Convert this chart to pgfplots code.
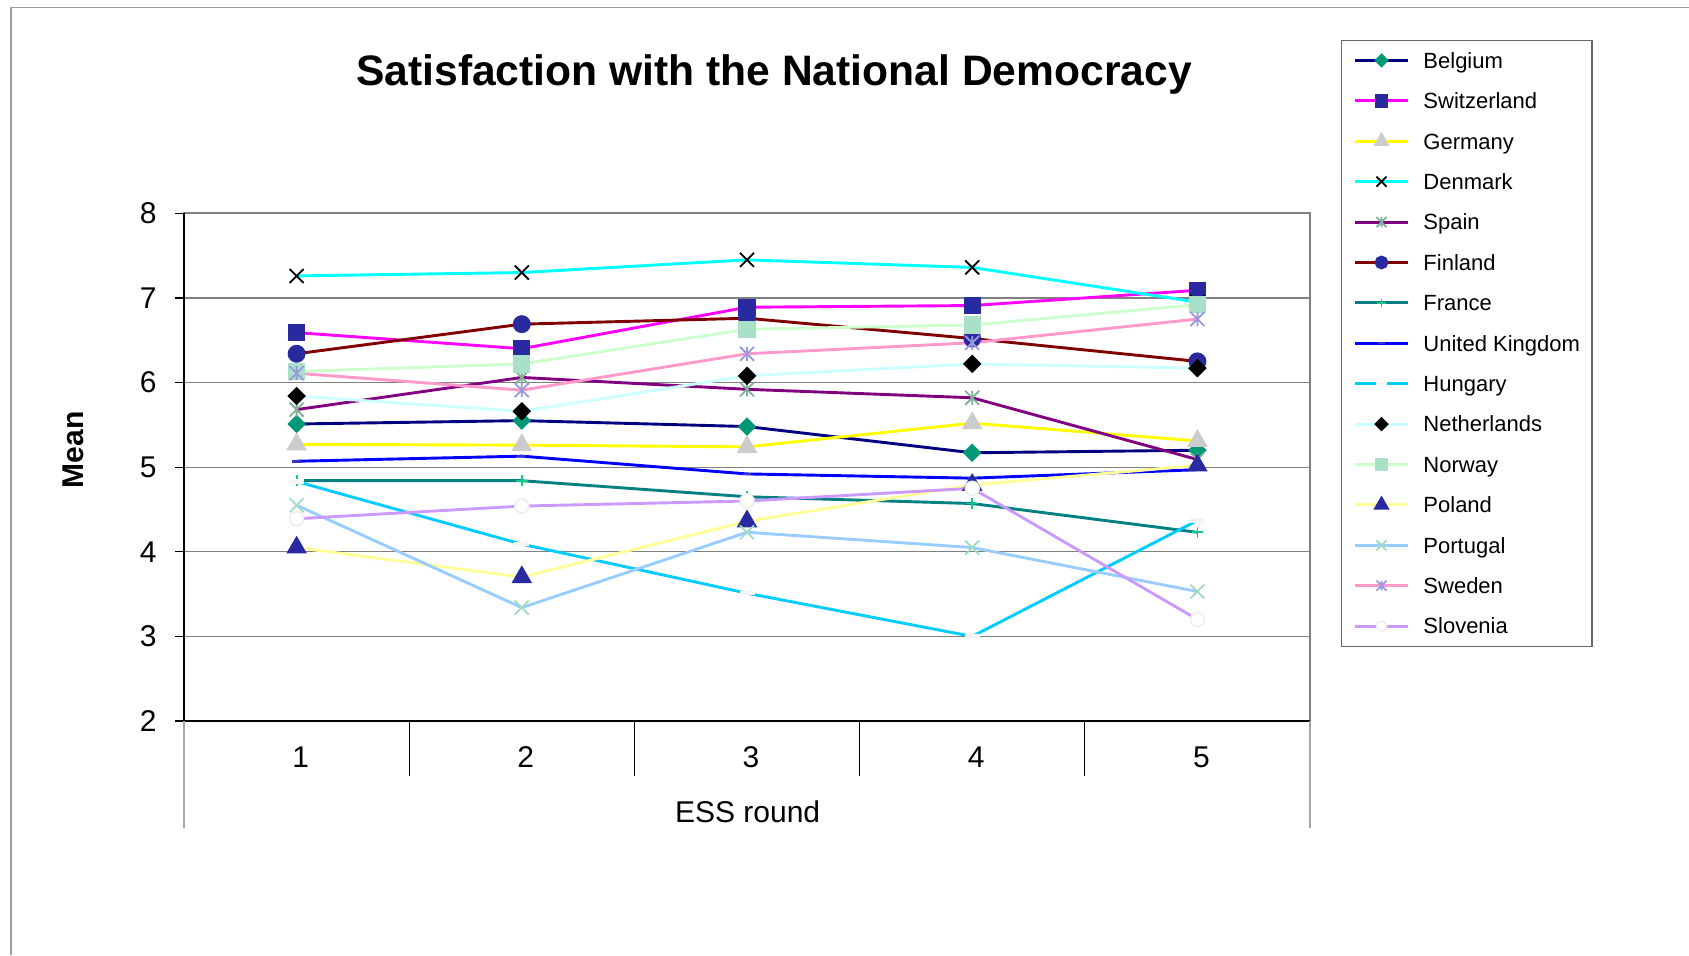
\documentclass[border=0pt]{standalone}
\usepackage{pgfplots}
\pgfplotsset{compat=1.18}
\usepackage{fontspec}
\setmainfont{Liberation Sans}

% series colours
\definecolor{cNavy}{RGB}{0,0,128}
\definecolor{cTealMk}{RGB}{0,153,119}
\definecolor{cIndigo}{RGB}{42,42,160}
\definecolor{cMagenta}{RGB}{255,0,255}
\definecolor{cYellow}{RGB}{255,255,0}
\definecolor{cLightGray}{RGB}{204,204,204}
\definecolor{cCyan}{RGB}{0,255,255}
\definecolor{cPurple}{RGB}{128,0,128}
\definecolor{cSageMk}{RGB}{128,176,150}
\definecolor{cMaroon}{RGB}{128,0,0}
\definecolor{cTeal}{RGB}{0,128,128}
\definecolor{cGreenMk}{RGB}{20,200,140}
\definecolor{cBlue}{RGB}{0,0,255}
\definecolor{cUKMk}{RGB}{51,51,204}
\definecolor{cSky}{RGB}{0,204,255}
\definecolor{cOffWhite}{RGB}{245,245,245}
\definecolor{cPaleCyan}{RGB}{204,255,255}
\definecolor{cPaleGreen}{RGB}{204,255,204}
\definecolor{cMintMk}{RGB}{168,224,200}
\definecolor{cPaleYellow}{RGB}{255,255,153}
\definecolor{cLightBlue}{RGB}{153,204,255}
\definecolor{cPortMk}{RGB}{160,220,190}
\definecolor{cPink}{RGB}{255,153,204}
\definecolor{cLavMk}{RGB}{153,153,221}
\definecolor{cLilac}{RGB}{204,153,255}

% x with a vertical stroke (asterisk-like marker)
\pgfdeclareplotmark{xstar}{%
  \pgfpathmoveto{\pgfqpoint{-\pgfplotmarksize}{-\pgfplotmarksize}}%
  \pgfpathlineto{\pgfqpoint{\pgfplotmarksize}{\pgfplotmarksize}}%
  \pgfpathmoveto{\pgfqpoint{-\pgfplotmarksize}{\pgfplotmarksize}}%
  \pgfpathlineto{\pgfqpoint{\pgfplotmarksize}{-\pgfplotmarksize}}%
  \pgfpathmoveto{\pgfqpoint{0pt}{-\pgfplotmarksize}}%
  \pgfpathlineto{\pgfqpoint{0pt}{\pgfplotmarksize}}%
  \pgfusepathqstroke}
% plain square x
\pgfdeclareplotmark{bigx}{%
  \pgfpathmoveto{\pgfqpoint{-\pgfplotmarksize}{-\pgfplotmarksize}}%
  \pgfpathlineto{\pgfqpoint{\pgfplotmarksize}{\pgfplotmarksize}}%
  \pgfpathmoveto{\pgfqpoint{-\pgfplotmarksize}{\pgfplotmarksize}}%
  \pgfpathlineto{\pgfqpoint{\pgfplotmarksize}{-\pgfplotmarksize}}%
  \pgfusepathqstroke}
% short horizontal bar
\pgfdeclareplotmark{hbar}{%
  \pgfpathrectangle{\pgfqpoint{-\pgfplotmarksize}{-0.3\pgfplotmarksize}}{\pgfqpoint{2\pgfplotmarksize}{0.6\pgfplotmarksize}}%
  \pgfusepathqfill}

\pgfplotsset{series/.style={line width=1.45pt}}

\begin{document}
\begin{tikzpicture}
\path[use as bounding box] (0,0) rectangle (844.5pt,477.5pt);
\draw[gray!75, line width=0.75pt] (5.5pt,0pt) -- (5.5pt,473.8pt) -- (844.5pt,473.8pt);

\node[font=\bfseries\fontsize{21.3}{25}\selectfont, anchor=base] at (387pt,434.5pt) {Satisfaction with the National Democracy};
\node[font=\bfseries\fontsize{15}{18}\selectfont, rotate=90] at (36.5pt,252.5pt) {Mean};
\node[font=\fontsize{15}{18}\selectfont, anchor=base] at (373.8pt,66.5pt) {ESS round};

\begin{axis}[
  at={(92pt,117pt)}, anchor=south west,
  scale only axis, width=563pt, height=253.85pt,
  xmin=0.5, xmax=5.5, ymin=2, ymax=8,
  xtick={1,2,3,4,5}, ytick={2,3,4,5,6,7,8},
  ytick pos=left,
  ymajorgrids, grid style={gray, line width=0.6pt},
  axis line style={draw=gray, line width=1.1pt},
  tick align=outside, major tick length=4.5pt,
  xtick style={draw=none},
  ytick style={black, line width=0.6pt},
  tick label style={font=\fontsize{15}{18}\selectfont},
  /pgf/number format/assume math mode=true,
  xticklabel style={anchor=base, inner sep=0pt, yshift=-18.8pt, xshift=2pt},
  yticklabel style={anchor=east, inner sep=0pt, xshift=-9pt},
  clip=false,
  legend cell align=left,
  legend style={
    at={(1.0275,1.342)}, anchor=north west,
    draw=gray!80!black, line width=0.6pt,
    font=\fontsize{11}{13}\selectfont,
    inner xsep=6pt, inner ysep=0pt,
    row sep=0pt, column sep=7pt,
    nodes={inner xsep=0pt, inner ysep=0pt, text height=7.9pt, text depth=0pt, minimum height=20.2pt},
  },
  legend image code/.code={%
    \draw[mark repeat=2,mark phase=2] plot coordinates {(0pt,0pt)(13.25pt,0pt)(26.5pt,0pt)};},
  legend image post style={every mark/.append style={scale=0.72}},
]

% Belgium
\addplot[cNavy, series, mark=square*, mark size=2.55pt,
  mark options={solid, rotate=45, fill=cTealMk, draw=cTealMk}]
  coordinates {(1,5.51) (2,5.55) (3,5.48) (4,5.17) (5,5.20)};
\addlegendentry{Belgium}
% Switzerland
\addplot[cMagenta, series, mark=square*, mark size=3.6pt,
  mark options={solid, fill=cIndigo, draw=cIndigo}]
  coordinates {(1,6.59) (2,6.40) (3,6.89) (4,6.91) (5,7.09)};
\addlegendentry{Switzerland}
% Germany
\addplot[cYellow, series, mark=triangle*, mark size=4.5pt,
  mark options={solid, fill=cLightGray, draw=cLightGray}]
  coordinates {(1,5.27) (2,5.26) (3,5.24) (4,5.52) (5,5.31)};
\addlegendentry{Germany}
% Denmark
\addplot[cCyan, series, mark=bigx, mark size=3.5pt,
  mark options={solid, draw=black, line width=0.9pt}]
  coordinates {(1,7.26) (2,7.30) (3,7.45) (4,7.36) (5,6.95)};
\addlegendentry{Denmark}
% Spain
\addplot[cPurple, series, mark=xstar, mark size=3.5pt,
  mark options={solid, draw=cSageMk, line width=0.9pt}]
  coordinates {(1,5.68) (2,6.06) (3,5.92) (4,5.82) (5,5.09)};
\addlegendentry{Spain}
% Finland
\addplot[cMaroon, series, mark=*, mark size=3.75pt,
  mark options={solid, fill=cIndigo, draw=cIndigo}]
  coordinates {(1,6.34) (2,6.69) (3,6.76) (4,6.52) (5,6.25)};
\addlegendentry{Finland}
% France
\addplot[cTeal, series, mark=+, mark size=2.9pt,
  mark options={solid, draw=cGreenMk, line width=0.9pt}]
  coordinates {(1,4.84) (2,4.84) (3,4.65) (4,4.57) (5,4.23)};
\addlegendentry{France}
% United Kingdom
\addplot[cBlue, series, mark=hbar, mark size=2.2pt,
  mark options={solid, fill=cUKMk}]
  coordinates {(1,5.07) (2,5.13) (3,4.92) (4,4.87) (5,4.97)};
\addlegendentry{United Kingdom}
% Hungary
\addplot[cSky, series, mark=hbar, mark size=3.75pt,
  mark options={solid, fill=cOffWhite}]
  coordinates {(1,4.83) (2,4.09) (3,3.51) (4,3.00) (5,4.37)};
\addlegendentry{Hungary}
% Netherlands
\addplot[cPaleCyan, series, mark=square*, mark size=2.55pt,
  mark options={solid, rotate=45, fill=black, draw=black}]
  coordinates {(1,5.84) (2,5.66) (3,6.08) (4,6.22) (5,6.17)};
\addlegendentry{Netherlands}
% Norway
\addplot[cPaleGreen, series, mark=square*, mark size=3.6pt,
  mark options={solid, fill=cMintMk, draw=cMintMk}]
  coordinates {(1,6.13) (2,6.22) (3,6.63) (4,6.68) (5,6.92)};
\addlegendentry{Norway}
% Poland
\addplot[cPaleYellow, series, mark=triangle*, mark size=4.5pt,
  mark options={solid, fill=cIndigo, draw=cIndigo}]
  coordinates {(1,4.05) (2,3.70) (3,4.36) (4,4.79) (5,5.02)};
\addlegendentry{Poland}
% Portugal
\addplot[cLightBlue, series, mark=bigx, mark size=3.5pt,
  mark options={solid, draw=cPortMk, line width=0.9pt}]
  coordinates {(1,4.55) (2,3.34) (3,4.23) (4,4.05) (5,3.53)};
\addlegendentry{Portugal}
% Sweden
\addplot[cPink, series, mark=xstar, mark size=3.5pt,
  mark options={solid, draw=cLavMk, line width=0.9pt}]
  coordinates {(1,6.11) (2,5.91) (3,6.34) (4,6.47) (5,6.75)};
\addlegendentry{Sweden}
% Slovenia
\addplot[cLilac, series, mark=*, mark size=3.5pt,
  mark options={solid, fill=white, draw=black!7, line width=0.8pt}]
  coordinates {(1,4.39) (2,4.54) (3,4.60) (4,4.75) (5,3.20)};
\addlegendentry{Slovenia}

% axes drawn in black over the grey plot-area frame
\draw[black, line width=1.1pt] (rel axis cs:0,0) -- (rel axis cs:1,0);
\draw[black, line width=1.1pt] (rel axis cs:0,0) -- (rel axis cs:0,1);
% category dividers below the x axis
\draw[black, line width=0.5pt] (axis cs:1.5,2) -- ++(0pt,-27.5pt);
\draw[black, line width=0.5pt] (axis cs:2.5,2) -- ++(0pt,-27.5pt);
\draw[black, line width=0.5pt] (axis cs:3.5,2) -- ++(0pt,-27.5pt);
\draw[black, line width=0.5pt] (axis cs:4.5,2) -- ++(0pt,-27.5pt);
\draw[gray!70, line width=0.8pt] (axis cs:0.5,2) -- ++(0pt,-53.5pt);
\draw[gray!70, line width=0.8pt] (axis cs:5.5,2) -- ++(0pt,-53.5pt);
\end{axis}
\end{tikzpicture}
\end{document}
